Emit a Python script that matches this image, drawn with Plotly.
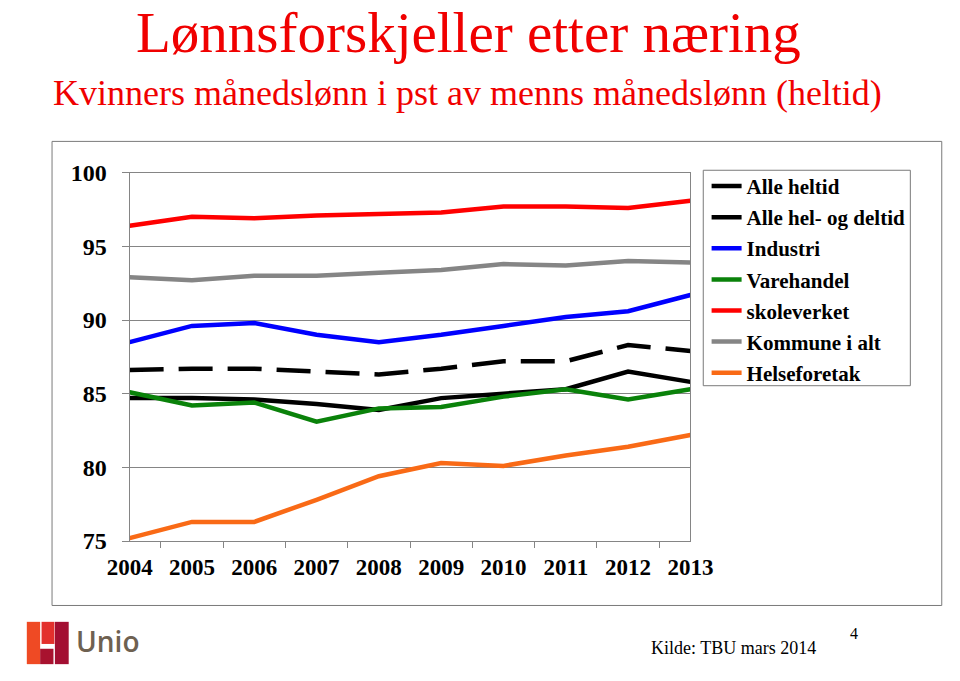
import plotly.graph_objects as go

# ---- data ----
years = ['2004', '2005', '2006', '2007', '2008', '2009', '2010', '2011', '2012', '2013']
alle_heltid = [84.7, 84.7, 84.6, 84.3, 83.9, 84.7, 85.0, 85.3, 86.5, 85.8]
alle_hel_og_deltid = [86.6, 86.7, 86.7, 86.5, 86.3, 86.7, 87.2, 87.2, 88.3, 87.9]
industri = [88.5, 89.6, 89.8, 89.0, 88.5, 89.0, 89.6, 90.2, 90.6, 91.7]
varehandel = [85.1, 84.2, 84.4, 83.1, 84.0, 84.1, 84.8, 85.3, 84.6, 85.3]
skoleverket = [96.4, 97.0, 96.9, 97.1, 97.2, 97.3, 97.7, 97.7, 97.6, 98.1]
kommune_i_alt = [92.9, 92.7, 93.0, 93.0, 93.2, 93.4, 93.8, 93.7, 94.0, 93.9]
helseforetak = [75.2, 76.3, 76.3, 77.8, 79.4, 80.3, 80.1, 80.8, 81.4, 82.2]
y_ticks = [75, 80, 85, 90, 95, 100]

series_names = ['Alle heltid', 'Alle hel- og deltid', 'Industri', 'Varehandel',
                'skoleverket', 'Kommune i alt', 'Helseforetak']
series_values = [alle_heltid, alle_hel_og_deltid, industri, varehandel,
                 skoleverket, kommune_i_alt, helseforetak]
series_colors = ['#000000', '#000000', '#0000FF', '#0A820A', '#FF0000', '#858585', '#F96A16']
series_dash = ['solid', '34px,15px', 'solid', 'solid', 'solid', 'solid', 'solid']

W, H = 960, 681


def px(x):
    return x / W


def py(y):
    return 1 - y / H


SERIF = 'Liberation Serif'
GRID = '#858585'

fig = go.Figure()
for name, vals, col, dash in zip(series_names, series_values, series_colors, series_dash):
    fig.add_trace(go.Scatter(
        x=years, y=vals, name=name, mode='lines', legendgroup=name,
        line=dict(color=col, width=4.5, dash=dash),
    ))

fig.update_layout(
    width=W, height=H,
    margin=dict(l=0, r=0, t=0, b=0),
    paper_bgcolor='white', plot_bgcolor='white',
    showlegend=True,
    legend=dict(
        x=px(718), y=py(159), xanchor='left', yanchor='top',
        borderwidth=0, bgcolor='rgba(255,255,255,0)',
        font=dict(family=SERIF, size=21, color='black', weight='bold'),
        tracegroupgap=0.8, itemwidth=30,
    ),
    xaxis=dict(
        domain=[px(112), px(701)],
        type='category', tickson='boundaries',
        showgrid=False, showline=True, mirror=True,
        linecolor=GRID, linewidth=1,
        ticks='outside', ticklen=6, tickcolor=GRID,
        tickfont=dict(family=SERIF, size=23, color='black', weight='bold'),
        ticklabelstandoff=5,
        fixedrange=True,
    ),
    yaxis=dict(
        domain=[py(549), py(166)],
        range=[75, 100], tickvals=y_ticks,
        showgrid=True, gridcolor=GRID, gridwidth=1,
        showline=True, mirror=True, linecolor=GRID, linewidth=1,
        ticks='outside', ticklen=7, tickcolor=GRID,
        tickfont=dict(family=SERIF, size=24, color='black', weight='bold'),
        ticklabelstandoff=10,
        zeroline=False, fixedrange=True,
    ),
)

# outer chart frame and legend frame
fig.add_shape(type='rect', xref='paper', yref='paper',
              x0=px(30.5), x1=px(965), y0=py(616), y1=py(133.5),
              line=dict(color='#7a7a7a', width=1), fillcolor='rgba(0,0,0,0)', layer='below')
fig.add_shape(type='rect', xref='paper', yref='paper',
              x0=px(714.5), x1=px(932), y0=py(387.5), y1=py(163.5),
              line=dict(color='#7a7a7a', width=1), fillcolor='white', layer='below')

# Unio logo
logo_parts = [
    (4, 18, 633, 677, '#EF4A24'),
    (19.5, 33, 633, 656, '#E3302C'),
    (33.5, 48, 633, 677, '#A30F32'),
    (18, 32, 661, 677, '#A8122F'),
]
for x0, x1, y0, y1, c in logo_parts:
    fig.add_shape(type='rect', xref='paper', yref='paper',
                  x0=px(x0), x1=px(x1), y0=py(y1), y1=py(y0),
                  line=dict(width=0), fillcolor=c)

annotations = [
    dict(text='Lønnsforskjeller etter næring', x=px(468), y=py(55.5), xanchor='center', yanchor='bottom',
         font=dict(family=SERIF, size=57, color='#F00000')),
    dict(text='Kvinners månedslønn i pst av menns månedslønn (heltid)', x=px(29), y=py(106.5),
         xanchor='left', yanchor='bottom', font=dict(family=SERIF, size=36, color='#F00000')),
    dict(text='Kilde: TBU mars 2014', x=px(657), y=py(673), xanchor='left', yanchor='bottom',
         font=dict(family=SERIF, size=18, color='black')),
    dict(text='4', x=px(867), y=py(656), xanchor='left', yanchor='bottom',
         font=dict(family=SERIF, size=16, color='black')),
    dict(text='Unio', x=px(54), y=py(675), xanchor='left', yanchor='bottom',
         font=dict(family='Open Sans', size=28, color='#6E6151', weight=600)),
]
for a in annotations:
    fig.add_annotation(xref='paper', yref='paper', showarrow=False, borderpad=1, **a)

fig.write_html('out.html', post_script="document.body.style.margin='0';",
               config={'displayModeBar': False})
